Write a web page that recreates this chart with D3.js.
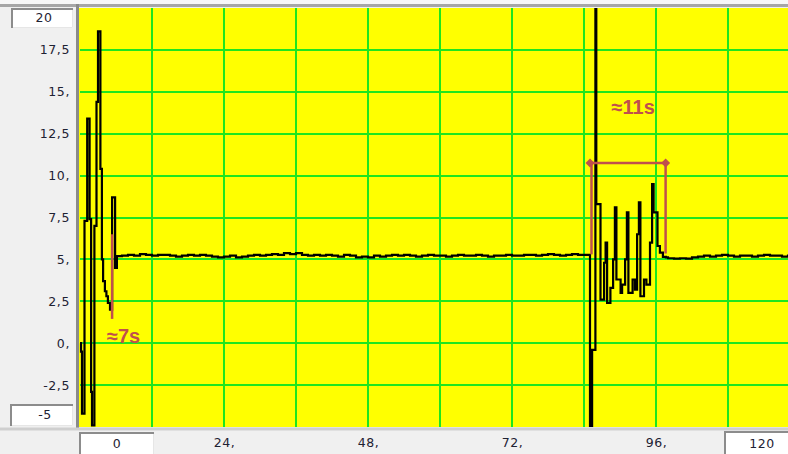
<!DOCTYPE html>
<html><head><meta charset="utf-8">
<script src="https://cdn.jsdelivr.net/npm/d3@7"></script>
<style>html,body{margin:0;padding:0;background:#f0f0f0;}svg{display:block;}</style>
</head><body>
<script>
// ---------- DATA ----------
// Event 1 (start-up oscillation): time [s], value
const event1Times  = [0.00, 0.17, 0.33, 0.75, 1.20, 1.60, 1.85, 2.00, 2.40, 2.75, 3.00, 3.40, 3.65, 3.85, 4.15, 4.40, 4.65, 5.00, 5.35, 5.85, 6.15];
const event1Values = [0.0, -0.5, -4.2, 7.3, 13.4, 7.4, -2.9, -4.9, 7.0, 14.4, 18.6, 10.4, 5.0, 3.7, 3.1, 2.8, 2.4, 2.0, 8.7, 4.5, 5.2];
// Steady state 1
const base1Times  = [7,8,9,10,11,12,13,14,15,16,17,18,19,20,21,22,23,24,25,26,27,28,29,30,31,32,33,34,35,36,37,38,39,40,41,42,43,44,45,46,47,48,49,50,51,52,53,54,55,56,57,58,59,60,61,62,63,64,65,66,67,68,69,70,71,72,73,74,75,76,77,78,79,80,81,82,83,84,85];
const base1Values = [5.22,5.27,5.22,5.32,5.27,5.22,5.27,5.27,5.22,5.17,5.22,5.27,5.22,5.27,
                     5.22,5.17,5.12,5.17,5.22,5.12,5.17,5.22,5.27,5.22,5.27,5.32,5.27,5.37,5.32,
                     5.37,5.27,5.22,5.27,5.22,5.27,5.22,5.17,5.27,5.22,5.12,5.17,5.12,5.22,5.17,
                     5.22,5.27,5.22,5.27,5.22,5.17,5.22,5.27,5.22,5.22,5.17,5.22,5.27,5.22,5.22,
                     5.27,5.22,5.17,5.22,5.22,5.27,5.22,5.22,5.27,5.27,5.22,5.27,5.32,5.27,5.22,5.27,5.32,5.27,5.27];
// Event 2 (disturbance)
const event2Times  = [85.35, 85.90, 86.05, 86.75, 87.35, 87.60, 87.85, 88.40, 88.85, 89.15, 89.40, 90.10, 90.35, 90.85, 91.15, 91.40, 92.10, 92.50, 92.85, 93.15, 93.40, 94.00, 94.40, 95.00, 95.35, 95.60, 96.25, 96.65, 97.15, 97.65];
const event2Values = [-7.0, -0.4, 23.0, 8.3, 2.6, 4.8, 6.0, 2.4, 3.3, 5.0, 8.1, 3.8, 3.0, 3.5, 5.0, 7.8, 3.0, 3.8, 3.2, 6.5, 8.4, 2.8, 3.8, 3.5, 6.0, 9.5, 7.8, 5.8, 5.4, 5.15];
// Steady state 2
const base2Times  = [98,99,100,101,102,103,104,105,106,107,108,109,110,111,112,113,114,115,116,117,118,119,120];
const base2Values = [5.12,5.07,5.05,5.07,5.05,5.12,5.17,5.22,5.17,5.22,5.27,5.22,5.17,5.22,5.22,5.17,5.22,5.27,5.22,5.22,5.17,5.22,5.22];

// Axis ticks
const yTickValues = [17.5, 15, 12.5, 10, 7.5, 5, 2.5, 0, -2.5];
const xTickValues = [24, 48, 72, 96];
const yGridValues = [17.5, 15, 12.5, 10, 7.5, 5, 2.5, 0, -2.5];
const xGridValues = [12, 24, 36, 48, 60, 72, 84, 96, 108];
const xMin = 0, xMax = 120, yMin = -5, yMax = 20;

// Annotations (data units)
const settle1 = {t: 5.35, v0: 1.45, v1: 6.5, label: "≈7s", lt: 4.5, lv: 0.0};
const settle2 = {t0: 85.25, t1: 97.6, v: 10.75, vb0: 5.3, vb1: 5.35, label: "≈11s", lt: 88.6, lv: 13.7};

// ---------- CHART ----------
const W = 788, H = 454;
const svg = d3.select("body").append("svg").attr("width", W).attr("height", H);
const x = d3.scaleLinear().domain([xMin, xMax]).range([80, 800]);
const y = d3.scaleLinear().domain([yMin, yMax]).range([427, 8]);
const fontFam = "'DejaVu Sans', Verdana, sans-serif";
const txtCol = "#1e2233";
const red = "#c0504d";

svg.append("rect").attr("width", W).attr("height", H).attr("fill", "#f0f0f0");
// top frame band
svg.append("rect").attr("x", 0).attr("y", 0).attr("width", W).attr("height", 4).attr("fill", "#f7f7f7");
svg.append("rect").attr("x", 0).attr("y", 4).attr("width", W).attr("height", 3).attr("fill", "#a6a6a6");

// plot background
svg.append("rect").attr("x", x(0) - 1).attr("y", y(yMax)).attr("width", W - x(0) + 1).attr("height", y(yMin) - y(yMax)).attr("fill", "#ffff00");
svg.append("line").attr("x1", x(0) - 2.5).attr("x2", x(0) - 2.5).attr("y1", 4).attr("y2", y(yMin) + 1)
  .attr("stroke", "#8a8a8a").attr("stroke-width", 3);
svg.append("line").attr("x1", 0).attr("x2", W).attr("y1", y(yMin) + 2).attr("y2", y(yMin) + 2)
  .attr("stroke", "#cfcfcf").attr("stroke-width", 3);

const defs = svg.append("defs");
defs.append("clipPath").attr("id", "clip").append("rect")
  .attr("x", x(0) - 1).attr("y", y(yMax)).attr("width", W - x(0) + 1).attr("height", y(yMin) - y(yMax));

const plot = svg.append("g").attr("clip-path", "url(#clip)");
// grid
plot.selectAll(".gx").data(xGridValues).join("line")
  .attr("x1", d => x(d)).attr("x2", d => x(d)).attr("y1", y(yMax)).attr("y2", y(yMin))
  .attr("stroke", "#1ee61e").attr("stroke-width", 2).attr("shape-rendering", "crispEdges");
plot.selectAll(".gy").data(yGridValues).join("line")
  .attr("x1", x(0)).attr("x2", W).attr("y1", d => y(d)).attr("y2", d => y(d))
  .attr("stroke", "#1ee61e").attr("stroke-width", 2).attr("shape-rendering", "crispEdges");

// series
const times = [...event1Times, ...base1Times, ...event2Times, ...base2Times];
const values = [...event1Values, ...base1Values, ...event2Values, ...base2Values];
const pts = times.map((t, i) => [t, values[i]]);
const line = d3.line().x(d => x(d[0])).y(d => y(d[1])).curve(d3.curveStepAfter);
plot.append("path").datum(pts).attr("d", line)
  .attr("fill", "none").attr("stroke", "#000").attr("stroke-width", 2.2).attr("stroke-linejoin", "miter");

// annotations
const ann = svg.append("g");
const labelFont = "'Liberation Sans', Arial, sans-serif";
ann.append("line").attr("x1", x(settle1.t)).attr("x2", x(settle1.t))
  .attr("y1", y(settle1.v1)).attr("y2", y(settle1.v0)).attr("stroke", red).attr("stroke-width", 2.5);
ann.append("text").attr("x", x(settle1.lt)).attr("y", y(settle1.lv)).text(settle1.label)
  .attr("fill", red).attr("font-family", labelFont).attr("font-weight", "bold").attr("font-size", 20);

ann.append("line").attr("x1", x(settle2.t0)).attr("x2", x(settle2.t1)).attr("y1", y(settle2.v)).attr("y2", y(settle2.v))
  .attr("stroke", red).attr("stroke-width", 2.5);
ann.append("line").attr("x1", x(settle2.t0)).attr("x2", x(settle2.t0)).attr("y1", y(settle2.v)).attr("y2", y(settle2.vb0))
  .attr("stroke", red).attr("stroke-width", 2.5);
ann.append("line").attr("x1", x(settle2.t1)).attr("x2", x(settle2.t1)).attr("y1", y(settle2.v)).attr("y2", y(settle2.vb1))
  .attr("stroke", red).attr("stroke-width", 2.5);
[settle2.t0 - 0.25, settle2.t1].forEach(t => {
  const cx = x(t), cy = y(settle2.v);
  ann.append("path").attr("d", `M${cx - 4.5},${cy}L${cx},${cy - 4.5}L${cx + 4.5},${cy}L${cx},${cy + 4.5}Z`).attr("fill", red);
});
ann.append("text").attr("x", x(settle2.lt)).attr("y", y(settle2.lv)).text(settle2.label)
  .attr("fill", red).attr("font-family", labelFont).attr("font-weight", "bold").attr("font-size", 20);

// axes
const fmt = v => Number.isInteger(v) ? v + "," : String(v).replace(".", ",");
const yAxis = svg.append("g").attr("transform", `translate(${x(0) - 2},0)`)
  .call(d3.axisLeft(y).tickValues(yTickValues).tickSize(0).tickPadding(8).tickFormat(fmt));
yAxis.select(".domain").remove();
yAxis.selectAll("text").attr("font-family", fontFam).attr("font-size", 12.5).attr("fill", txtCol).attr("letter-spacing", 0.6);

const xAxis = svg.append("g").attr("transform", `translate(0,${y(yMin)})`)
  .call(d3.axisBottom(x).tickValues(xTickValues).tickSize(0).tickPadding(11).tickFormat(v => v + ","));
xAxis.select(".domain").remove();
xAxis.selectAll("text").attr("font-family", fontFam).attr("font-size", 12.5).attr("fill", txtCol).attr("letter-spacing", 0.6);

// range boxes
function box(bx, by, bw, bh, label, tx) {
  const g = svg.append("g");
  g.append("rect").attr("x", bx).attr("y", by).attr("width", bw).attr("height", bh).attr("fill", "#fff");
  g.append("path").attr("d", `M${bx + 1},${by + bh}V${by + 1}H${bx + bw}`).attr("fill", "none").attr("stroke", "#8c8c8c").attr("stroke-width", 2);
  g.append("path").attr("d", `M${bx + 2},${by + bh - 0.5}H${bx + bw - 0.5}V${by + 2}`).attr("fill", "none").attr("stroke", "#e6e6e6").attr("stroke-width", 1);
  g.append("text").attr("x", tx).attr("y", by + bh / 2).attr("dy", "0.35em").attr("text-anchor", "middle").text(label)
    .attr("font-family", fontFam).attr("font-size", 12.5).attr("fill", txtCol).attr("letter-spacing", 0.6);
}
box(11, 8, 62, 20, String(yMax), 44);
box(10, 404, 63, 22, String(yMin), 45);
box(79, 432, 75, 24, String(xMin), x(xMin) + 37);
box(724, 431, 66, 25, String(xMax), 762);
</script>
</body></html>
